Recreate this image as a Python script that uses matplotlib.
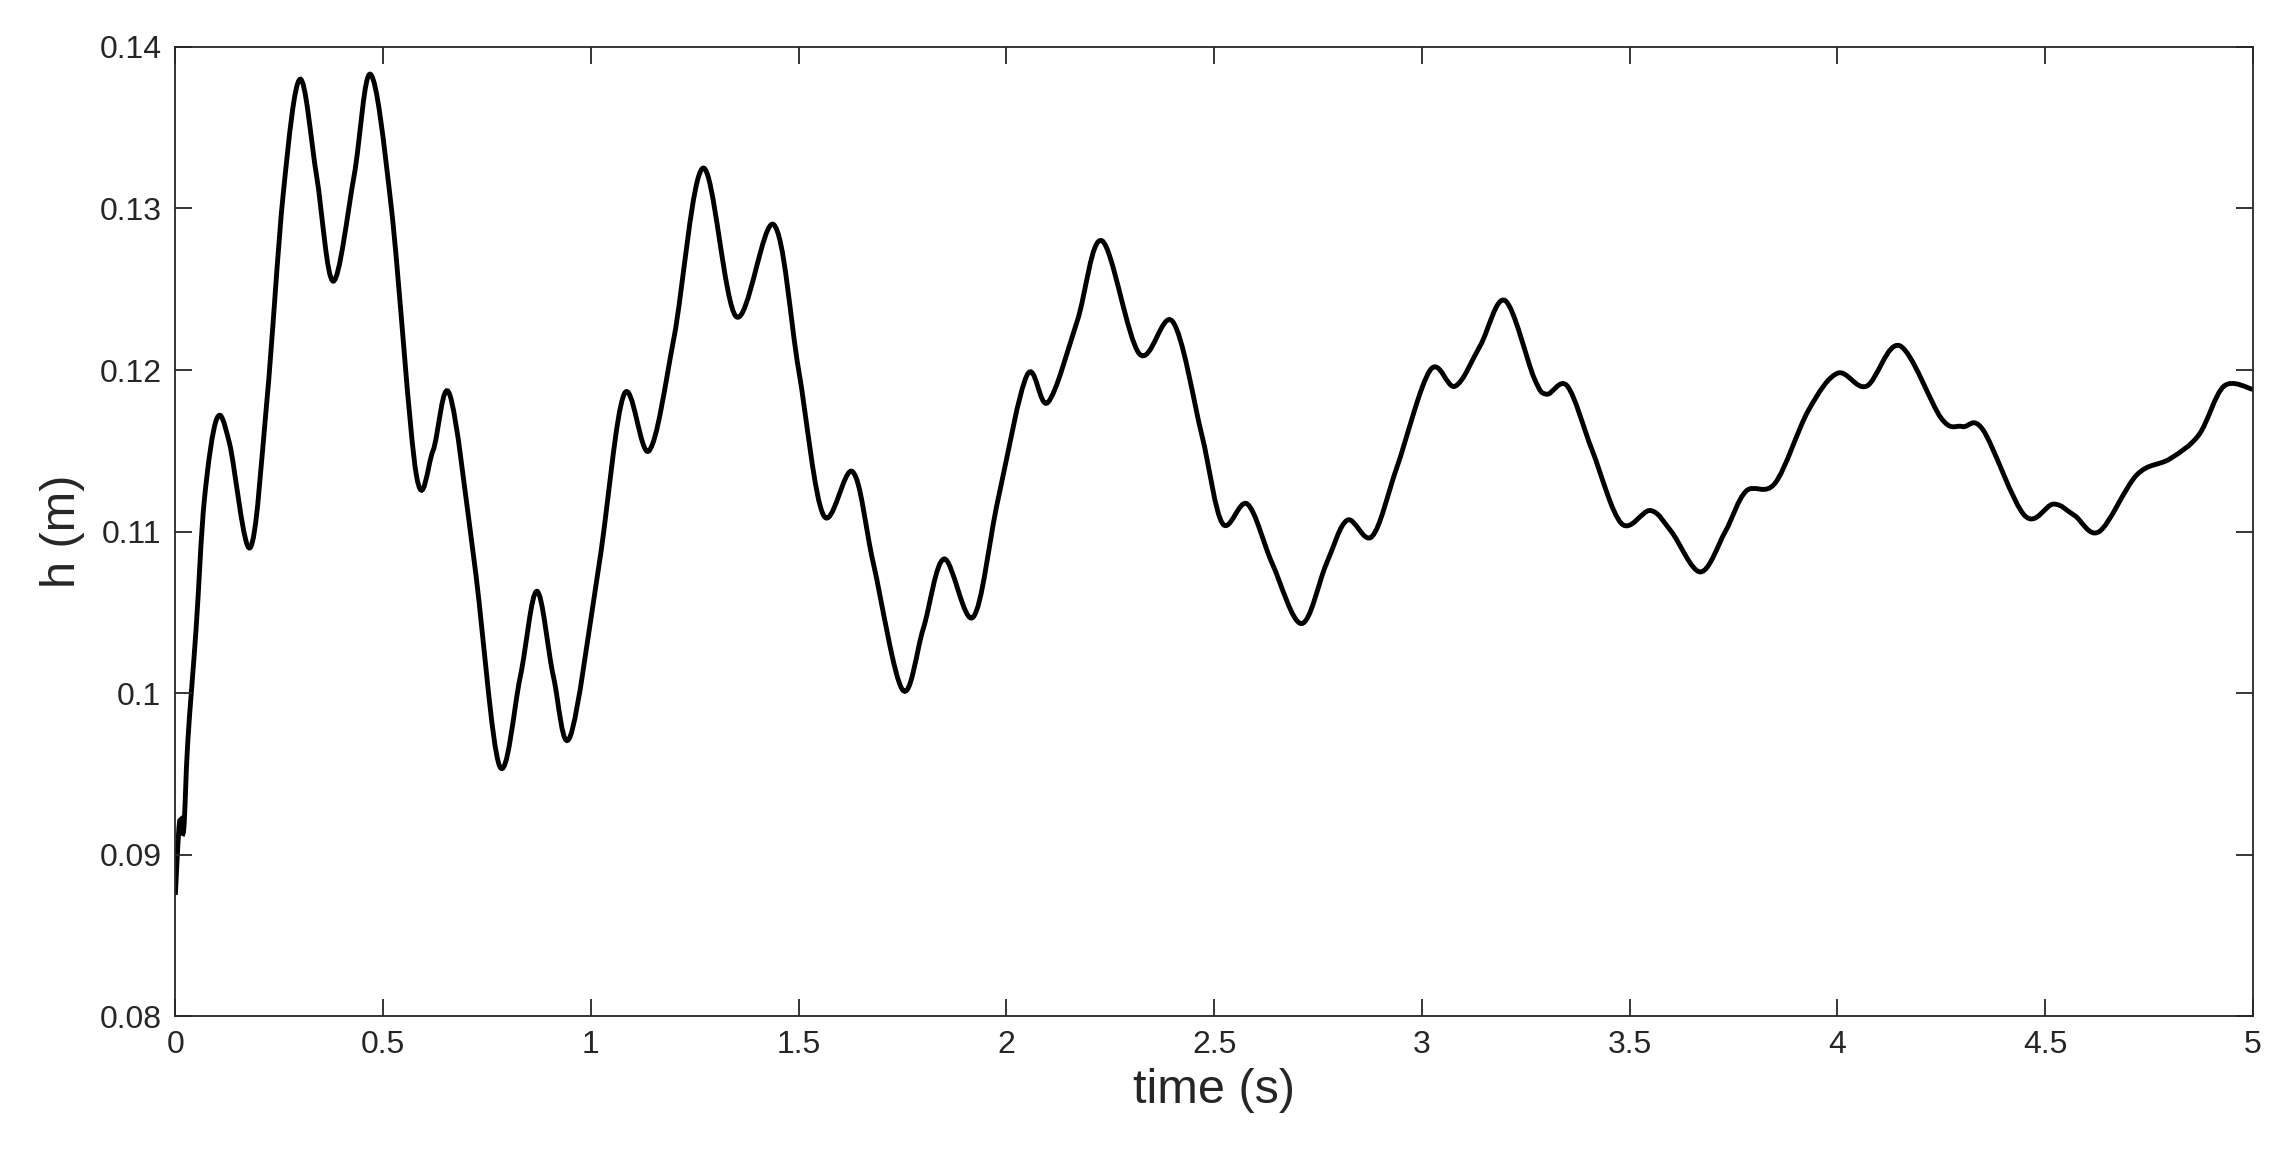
import matplotlib
matplotlib.use("Agg")
import matplotlib.pyplot as plt
from matplotlib.path import Path
from matplotlib.patches import PathPatch

# values
time_s = [0, 0.01, 0.02, 0.03, 0.05, 0.07, 0.1, 0.13, 0.18, 0.22, 0.26, 0.3, 0.34, 0.38, 0.43, 0.47,
          0.52, 0.58, 0.62, 0.66, 0.72, 0.78, 0.83, 0.87, 0.91, 0.95, 1.02, 1.08, 1.14, 1.2, 1.27,
          1.35, 1.44, 1.5, 1.56, 1.63, 1.68, 1.75, 1.8, 1.85, 1.92, 1.98, 2.05, 2.1, 2.17, 2.23,
          2.32, 2.4, 2.47, 2.52, 2.58, 2.64, 2.71, 2.77, 2.82, 2.88, 2.94, 3.02, 3.08, 3.14, 3.2,
          3.27, 3.3, 3.35, 3.41, 3.48, 3.55, 3.6, 3.67, 3.73, 3.78, 3.85, 3.93, 4.0, 4.07, 4.15,
          4.25, 4.3, 4.35, 4.45, 4.52, 4.57, 4.63, 4.72, 4.8, 4.87, 4.93, 5.0]
h_m = [0.0875, 0.092, 0.0915, 0.097, 0.104, 0.112, 0.117, 0.1155, 0.109, 0.118, 0.131, 0.138, 0.132,
       0.1255, 0.132, 0.1383, 0.130, 0.1135, 0.115, 0.1185, 0.108, 0.0955, 0.101, 0.1063, 0.101,
       0.0973, 0.108, 0.1185, 0.115, 0.122, 0.1325, 0.1233, 0.129, 0.120, 0.111, 0.1137, 0.108,
       0.1002, 0.104, 0.1083, 0.1047, 0.112, 0.1197, 0.118, 0.123, 0.128, 0.121, 0.123, 0.116,
       0.1105, 0.1117, 0.108, 0.1043, 0.108, 0.1107, 0.1097, 0.114, 0.120, 0.119, 0.1215, 0.1243,
       0.1195, 0.1185, 0.119, 0.115, 0.1105, 0.1113, 0.110, 0.1075, 0.110, 0.1125, 0.113, 0.1175,
       0.1198, 0.119, 0.1215, 0.117, 0.1165, 0.1163, 0.111, 0.1117, 0.111, 0.110, 0.1135, 0.1145,
       0.116, 0.119, 0.1188]

plt.rcParams['font.family'] = ['Liberation Sans', 'DejaVu Sans']

fig = plt.figure(figsize=(22.92, 11.74), dpi=100)
ax = fig.add_axes([0.0765, 0.1345, 0.9065, 0.8255])

# draw the read points as a smooth bezier path (Catmull-Rom style control points)
verts = [(time_s[0], h_m[0])]
codes = [Path.MOVETO]
n = len(time_s)
for i in range(n - 1):
    p0 = (time_s[max(i - 1, 0)], h_m[max(i - 1, 0)])
    p1 = (time_s[i], h_m[i])
    p2 = (time_s[i + 1], h_m[i + 1])
    p3 = (time_s[min(i + 2, n - 1)], h_m[min(i + 2, n - 1)])
    c1 = (p1[0] + (p2[0] - p0[0]) / 6, p1[1] + (p2[1] - p0[1]) / 6)
    c2 = (p2[0] - (p3[0] - p1[0]) / 6, p2[1] - (p3[1] - p1[1]) / 6)
    verts += [c1, c2, p2]
    codes += [Path.CURVE4] * 3
ax.add_patch(PathPatch(Path(verts, codes), facecolor="none", edgecolor="black", lw=3.5))

ax.set_xlim(0, 5)
ax.set_ylim(0.08, 0.14)
ax.set_xticks([0, 0.5, 1, 1.5, 2, 2.5, 3, 3.5, 4, 4.5, 5])
ax.set_xticklabels(["0", "0.5", "1", "1.5", "2", "2.5", "3", "3.5", "4", "4.5", "5"])
ax.set_yticks([0.08, 0.09, 0.1, 0.11, 0.12, 0.13, 0.14])
ax.set_yticklabels(["0.08", "0.09", "0.1", "0.11", "0.12", "0.13", "0.14"])
ax.tick_params(direction="in", top=True, right=True, labelsize=23, length=12, pad=10,
               colors="#262626", width=1.3)
for s in ax.spines.values():
    s.set_color("#262626")
    s.set_linewidth(1.3)
ax.set_xlabel("time (s)", fontsize=35, color="#262626", labelpad=6)
ax.set_ylabel("h (m)", fontsize=35, color="#262626", labelpad=10)
fig.savefig("out.png")
